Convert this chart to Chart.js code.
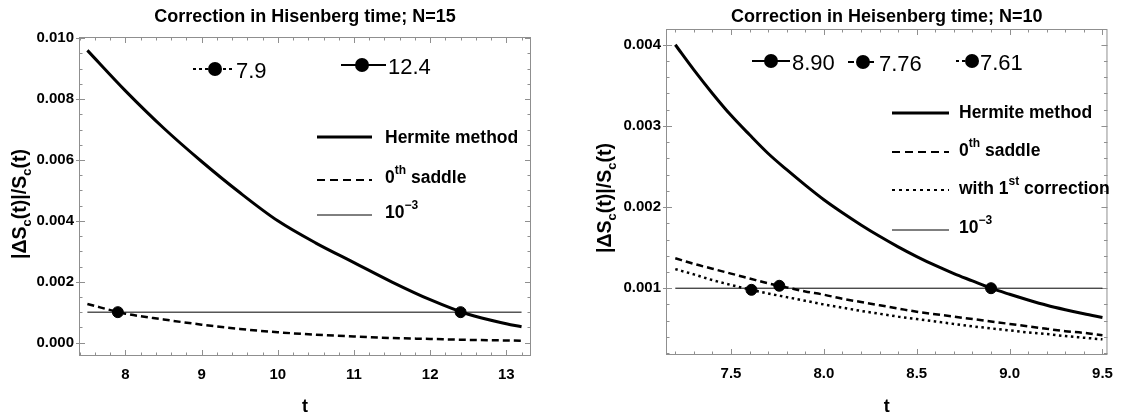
<!DOCTYPE html>
<html>
<head>
<meta charset="utf-8">
<script src="https://cdn.jsdelivr.net/npm/chart.js@4"></script>
<style>
  html, body { margin: 0; padding: 0; background: #fff; }
  #wrap { position: relative; width: 1123px; height: 416px; }
  canvas { position: absolute; top: 0; }
</style>
</head>
<body>
<div id="wrap">
  <canvas id="left" width="560" height="416" style="left:0"></canvas>
  <canvas id="right" width="563" height="416" style="left:560px"></canvas>
</div>
<script>
// ---- data ----
// left panel, N=15
const tLeft = [7.5, 8.0, 8.5, 9.0, 9.5, 10.0, 10.5, 11.0, 11.5, 12.0, 12.5, 13.0, 13.2];
const hermiteLeft = [0.00960, 0.00827, 0.00705, 0.00595, 0.00493, 0.00400, 0.00327, 0.00263, 0.00199, 0.00141, 0.00093, 0.00062, 0.00052];
const saddleLeft = [0.00127, 0.00095, 0.00076, 0.00059, 0.00045, 0.00034, 0.00026, 0.00020, 0.00015, 0.00012, 0.00009, 0.00007, 0.00006];
const thresholdLeftT = [7.5, 13.2];
const crossLeftT = [7.9, 12.4];
const crossLeftV = [0.001, 0.001];
const xTicksLeft = [8, 9, 10, 11, 12, 13];
const yTicksLeft = [0, 0.002, 0.004, 0.006, 0.008, 0.010];

// right panel, N=10
const tRight = [7.2, 7.3, 7.4, 7.5, 7.6, 7.7, 7.8, 7.9, 8.0, 8.1, 8.2, 8.3, 8.4, 8.5, 8.6, 8.7, 8.8, 8.9, 9.0, 9.1, 9.2, 9.3, 9.4, 9.5];
const hermiteRight = [0.00400, 0.00369, 0.00340, 0.00313, 0.00289, 0.00266, 0.00246, 0.00227, 0.00209, 0.00193, 0.00178, 0.00164, 0.00151, 0.00139, 0.00128, 0.00118, 0.00109, 0.00100, 0.000925, 0.000855, 0.00079, 0.000735, 0.000685, 0.00064];
const saddleRight = [0.00137, 0.00130, 0.00124, 0.00118, 0.00112, 0.00106, 0.00101, 0.00096, 0.00092, 0.00087, 0.00083, 0.00079, 0.00075, 0.00071, 0.00068, 0.00065, 0.00062, 0.00059, 0.00056, 0.00053, 0.00050, 0.00047, 0.00045, 0.00042];
const firstCorrRight = [0.001235, 0.00117, 0.00110, 0.00104, 0.000985, 0.000935, 0.00089, 0.000845, 0.00080, 0.00076, 0.00072, 0.000685, 0.00065, 0.00062, 0.00059, 0.00056, 0.00053, 0.000505, 0.00048, 0.000455, 0.000435, 0.00041, 0.00039, 0.00037];
const thresholdRightT = [7.2, 9.5];
const crossRightT = [8.90, 7.76, 7.61];
const crossRightV = [0.001, 0.00103, 0.00098];
const xTicksRight = [7.5, 8.0, 8.5, 9.0, 9.5];
const yTicksRight = [0.001, 0.002, 0.003, 0.004];

const threshold = 0.001;

const FONT = '"Liberation Sans", Arial, sans-serif';
const DASH = [7, 4];
const DOT = [2.5, 3.5];

function pts(xs, ys) {
  return xs.map((x, i) => ({ x: x, y: ys[i] }));
}

function steps(min, max, step) {
  const out = [];
  for (let k = Math.ceil(min / step - 1e-9); k * step <= max + 1e-9; k++) out.push(+(k * step).toFixed(6));
  return out;
}

function drawRich(ctx, parts, x, y, size, align) {
  const small = Math.round(size * 0.68);
  const fontOf = k => 'bold ' + (k ? small : size) + 'px ' + FONT;
  let w = 0;
  parts.forEach(p => { ctx.font = fontOf(p[1]); w += ctx.measureText(p[0]).width; });
  let cx = align === 'center' ? x - w / 2 : x;
  ctx.textAlign = 'left';
  ctx.textBaseline = 'middle';
  parts.forEach(p => {
    ctx.font = fontOf(p[1]);
    const dy = p[1] === 'sub' ? size * 0.32 : p[1] === 'sup' ? -size * 0.4 : 0;
    ctx.fillText(p[0], cx, y + dy);
    cx += ctx.measureText(p[0]).width;
  });
}

// frame, inward ticks, titles and the in-plot legends
function makeDecor(cfg) {
  return {
    id: 'decor',
    beforeDatasetsDraw(chart) {
      const { ctx, chartArea: a } = chart;
      const x = chart.scales.x, y = chart.scales.y;
      ctx.save();
      ctx.strokeStyle = '#8f8f8f';
      ctx.lineWidth = 1;
      ctx.strokeRect(a.left + 0.5, a.top + 0.5, a.width - 1, a.height - 1);
      ctx.beginPath();
      steps(x.min, x.max, cfg.xMinor).forEach(v => {
        const major = cfg.xTicks.some(t => Math.abs(t - v) < 1e-9);
        const len = major ? 6 : 3.5;
        const px = Math.round(x.getPixelForValue(v)) + 0.5;
        ctx.moveTo(px, a.bottom); ctx.lineTo(px, a.bottom - len);
        ctx.moveTo(px, a.top); ctx.lineTo(px, a.top + len);
      });
      steps(y.min, y.max, cfg.yMinor).forEach(v => {
        const major = cfg.yTicks.some(t => Math.abs(t - v) < 1e-9);
        const len = major ? 6 : 3.5;
        const py = Math.round(y.getPixelForValue(v)) + 0.5;
        ctx.moveTo(a.left, py); ctx.lineTo(a.left + len, py);
        ctx.moveTo(a.right, py); ctx.lineTo(a.right - len, py);
        if (major) { ctx.moveTo(a.left, py); ctx.lineTo(a.left - 3, py); }
      });
      ctx.stroke();
      ctx.restore();
    },
    afterDraw(chart) {
      const { ctx, chartArea: a } = chart;
      ctx.save();
      ctx.fillStyle = '#000';
      ctx.strokeStyle = '#000';
      // title
      ctx.font = 'bold 18px ' + FONT;
      ctx.textAlign = 'center';
      ctx.textBaseline = 'middle';
      ctx.fillText(cfg.title, (a.left + a.right) / 2, 17);
      // y axis title
      ctx.save();
      ctx.translate(cfg.yTitleX, cfg.yTitleY);
      ctx.rotate(-Math.PI / 2);
      drawRich(ctx, [['|ΔS', ''], ['c', 'sub'], ['(t)|/S', ''], ['c', 'sub'], ['(t)', '']], 0, 0, 19.5, 'center');
      ctx.restore();
      // marker legend row
      cfg.markerLegend.forEach(m => {
        ctx.setLineDash(m.dash);
        ctx.lineWidth = 2;
        ctx.beginPath();
        ctx.moveTo(m.x0, m.y); ctx.lineTo(m.x1, m.y);
        ctx.stroke();
        ctx.setLineDash([]);
        ctx.beginPath();
        ctx.arc(m.mx, m.y, 7, 0, Math.PI * 2);
        ctx.fill();
        ctx.font = '22px ' + FONT;
        ctx.textAlign = 'left';
        ctx.textBaseline = 'middle';
        ctx.fillText(m.text, m.tx, m.y + 3);
      });
      // line legend
      cfg.lineLegend.forEach(l => {
        ctx.setLineDash(l.dash);
        ctx.lineWidth = l.width;
        ctx.beginPath();
        ctx.moveTo(cfg.legendX0, l.y); ctx.lineTo(cfg.legendX1, l.y);
        ctx.stroke();
        ctx.setLineDash([]);
        drawRich(ctx, l.parts, cfg.legendTX, l.ty, 17.5, 'left');
      });
      ctx.restore();
    }
  };
}

function makeChart(id, o) {
  const tickFont = { family: FONT, size: 15, weight: 'bold' };
  return new Chart(document.getElementById(id), {
    type: 'line',
    data: { datasets: o.datasets },
    options: {
      responsive: false,
      animation: false,
      events: [],
      layout: { padding: { left: 0, right: o.padRight, top: o.top, bottom: 0 } },
      elements: { point: { radius: 0 } },
      plugins: { legend: { display: false }, tooltip: { enabled: false } },
      scales: {
        x: {
          type: 'linear',
          min: o.xMin, max: o.xMax,
          grid: { display: false, drawTicks: false },
          border: { display: false },
          afterBuildTicks: s => { s.ticks = o.xTicks.map(v => ({ value: v })); },
          afterFit: s => { s.height = 416 - o.bottom; },
          ticks: { color: '#000', font: tickFont, padding: 10, maxRotation: 0, autoSkip: false,
                   callback: v => o.xFmt(v) },
          title: { display: true, text: 't', color: '#000', padding: { top: 0, bottom: -2 },
                   font: { family: FONT, size: 18, weight: 'bold' } }
        },
        y: {
          type: 'linear',
          min: o.yMin, max: o.yMax,
          grid: { display: false, drawTicks: false },
          border: { display: false },
          afterBuildTicks: s => { s.ticks = o.yTicks.map(v => ({ value: v })); },
          afterFit: s => { s.width = o.left; },
          ticks: { color: '#000', font: tickFont, padding: 5, autoSkip: false,
                   callback: v => v.toFixed(3) }
        }
      }
    },
    plugins: [makeDecor(o.decor)]
  });
}

const curve = { borderColor: '#000', fill: false, pointRadius: 0, cubicInterpolationMode: 'monotone' };
const dots = { showLine: false, pointRadius: 5.5, pointBackgroundColor: '#000', pointBorderColor: '#000', borderColor: '#000' };

makeChart('left', {
  left: 79, padRight: 29, top: 37, bottom: 356,
  xMin: 7.39, xMax: 13.324, yMin: -0.00044, yMax: 0.01004,
  xTicks: xTicksLeft, yTicks: yTicksLeft,
  xFmt: v => String(v),
  datasets: [
    Object.assign({ data: pts(tLeft, hermiteLeft), borderWidth: 3 }, curve),
    Object.assign({ data: pts(tLeft, saddleLeft), borderWidth: 2.5, borderDash: DASH }, curve),
    Object.assign({ data: pts(thresholdLeftT, [threshold, threshold]), borderWidth: 1 }, curve),
    Object.assign({ data: pts(crossLeftT, crossLeftV) }, dots)
  ],
  decor: {
    title: 'Correction in Hisenberg time; N=15',
    yTitleX: 21, yTitleY: 204,
    xMinor: 0.2, yMinor: 0.0005, xTicks: xTicksLeft, yTicks: yTicksLeft,
    markerLegend: [
      { x0: 193, x1: 232, mx: 215, y: 69, dash: [3, 3], text: '7.9', tx: 236 },
      { x0: 341, x1: 386, mx: 362, y: 65, dash: [], text: '12.4', tx: 388 }
    ],
    legendX0: 317, legendX1: 372, legendTX: 385,
    lineLegend: [
      { y: 137, ty: 138, width: 3, dash: [], parts: [['Hermite method', '']] },
      { y: 180, ty: 178, width: 2, dash: [8, 5], parts: [['0', ''], ['th', 'sup'], [' saddle', '']] },
      { y: 215, ty: 213, width: 1, dash: [], parts: [['10', ''], ['\u22123', 'sup']] }
    ]
  }
});

makeChart('right', {
  left: 106, padRight: 10, top: 29, bottom: 355,
  xMin: 7.15, xMax: 9.527, yMin: 0.000177, yMax: 0.004194,
  xTicks: xTicksRight, yTicks: yTicksRight,
  xFmt: v => v.toFixed(1),
  datasets: [
    Object.assign({ data: pts(tRight, hermiteRight), borderWidth: 3 }, curve),
    Object.assign({ data: pts(tRight, saddleRight), borderWidth: 2.5, borderDash: DASH }, curve),
    Object.assign({ data: pts(tRight, firstCorrRight), borderWidth: 2.5, borderDash: DOT }, curve),
    Object.assign({ data: pts(thresholdRightT, [threshold, threshold]), borderWidth: 1 }, curve),
    Object.assign({ data: pts(crossRightT, crossRightV) }, dots)
  ],
  decor: {
    title: 'Correction in Heisenberg time; N=10',
    yTitleX: 46, yTitleY: 198,
    xMinor: 0.1, yMinor: 0.0002, xTicks: xTicksRight, yTicks: yTicksRight,
    markerLegend: [
      { x0: 192, x1: 230, mx: 211, y: 61, dash: [], text: '8.90', tx: 232 },
      { x0: 288, x1: 314, mx: 303, y: 62, dash: [6, 4], text: '7.76', tx: 319 },
      { x0: 396, x1: 418, mx: 412, y: 61, dash: [3, 3], text: '7.61', tx: 420 }
    ],
    legendX0: 332, legendX1: 389, legendTX: 399,
    lineLegend: [
      { y: 113, ty: 113, width: 3, dash: [], parts: [['Hermite method', '']] },
      { y: 152, ty: 151, width: 2, dash: [8, 5], parts: [['0', ''], ['th', 'sup'], [' saddle', '']] },
      { y: 190, ty: 189, width: 2, dash: [3, 4], parts: [['with 1', ''], ['st', 'sup'], [' correction', '']] },
      { y: 230, ty: 228, width: 1, dash: [], parts: [['10', ''], ['\u22123', 'sup']] }
    ]
  }
});
</script>
</body>
</html>
